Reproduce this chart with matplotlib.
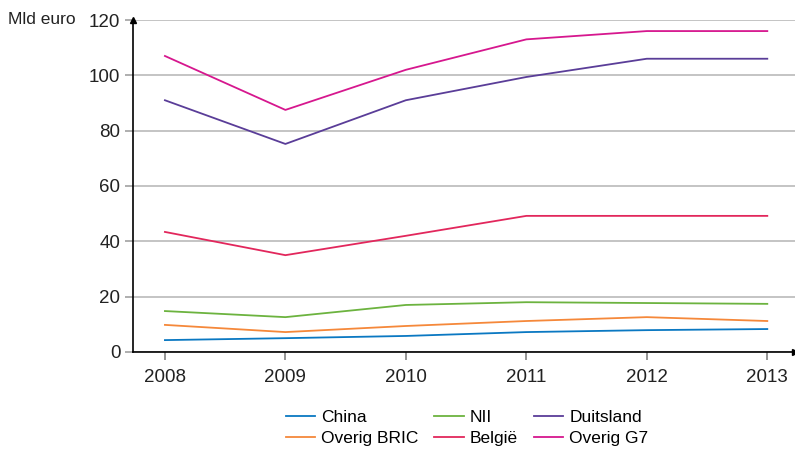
import matplotlib
matplotlib.use("Agg")
import matplotlib.pyplot as plt

plt.rcParams['font.family'] = ['Liberation Sans Narrow', 'Liberation Sans', 'DejaVu Sans']

# jaren en reeksen (mld euro)
jaren = [2008, 2009, 2010, 2011, 2012, 2013]
china = [4.3, 5.0, 5.8, 7.2, 7.9, 8.3]
overig_bric = [9.8, 7.2, 9.4, 11.2, 12.6, 11.2]
nii = [14.8, 12.6, 17.0, 18.0, 17.7, 17.4]
belgie = [43.4, 35.0, 42.0, 49.2, 49.2, 49.2]
duitsland = [91.0, 75.2, 91.0, 99.4, 106.0, 106.0]
overig_g7 = [107.0, 87.5, 102.0, 113.0, 116.0, 116.0]

yticks = [0, 20, 40, 60, 80, 100, 120]

# volgorde zodat de legenda in 3 kolommen klopt
reeksen = [
    ("China", china, "#0a78c2"),
    ("Overig BRIC", overig_bric, "#f5883a"),
    ("NII", nii, "#6cb33f"),
    ("België", belgie, "#e2275c"),
    ("Duitsland", duitsland, "#5a3d98"),
    ("Overig G7", overig_g7, "#d6178e"),
]

fig = plt.figure(figsize=(7.95, 4.49), dpi=100)
ax = fig.add_axes([133/795, 97/449, 662/795, 332/449])

for naam, waarden, kleur in reeksen:
    ax.plot(jaren, waarden, color=kleur, lw=1.3, label=naam, zorder=3)

ax.set_xlim(2007.735, 2013.23)
ax.set_ylim(0, 120)
ax.set_xticks(jaren)
ax.set_yticks(yticks)
ax.grid(axis='y', color='#b4b4b4', lw=1.1, zorder=1)

for s in ['top', 'right']:
    ax.spines[s].set_visible(False)
ax.spines['left'].set_linewidth(1.2)
ax.spines['bottom'].set_linewidth(1.2)
ax.spines['left'].set_zorder(4)
ax.spines['bottom'].set_zorder(4)

# pijltjes aan de assen
ax.plot(0, 1, '^k', ms=5, transform=ax.transAxes, clip_on=False, zorder=5)
ax.plot(1, 0, '>k', ms=5, transform=ax.transAxes, clip_on=False, zorder=5)

ax.tick_params(axis='y', length=6, width=1.1, color='#999999', pad=3, labelsize=13.5)
ax.tick_params(axis='x', length=6, width=1.1, color='#777777', pad=6, labelsize=13.5)
for lab in ax.get_xticklabels() + ax.get_yticklabels():
    lab.set_color('#222222')

fig.text(8/795, 1 - 20/449, "Mld euro", fontsize=12.5, va='center', ha='left', color='#222222')

fig.legend(loc='center', bbox_to_anchor=(467/795, 21/449), ncol=3, frameon=False,
           fontsize=12.5, handlelength=1.7, handletextpad=0.35, columnspacing=0.9,
           labelspacing=0.3, borderaxespad=0)

fig.savefig("out.png", dpi=100)
